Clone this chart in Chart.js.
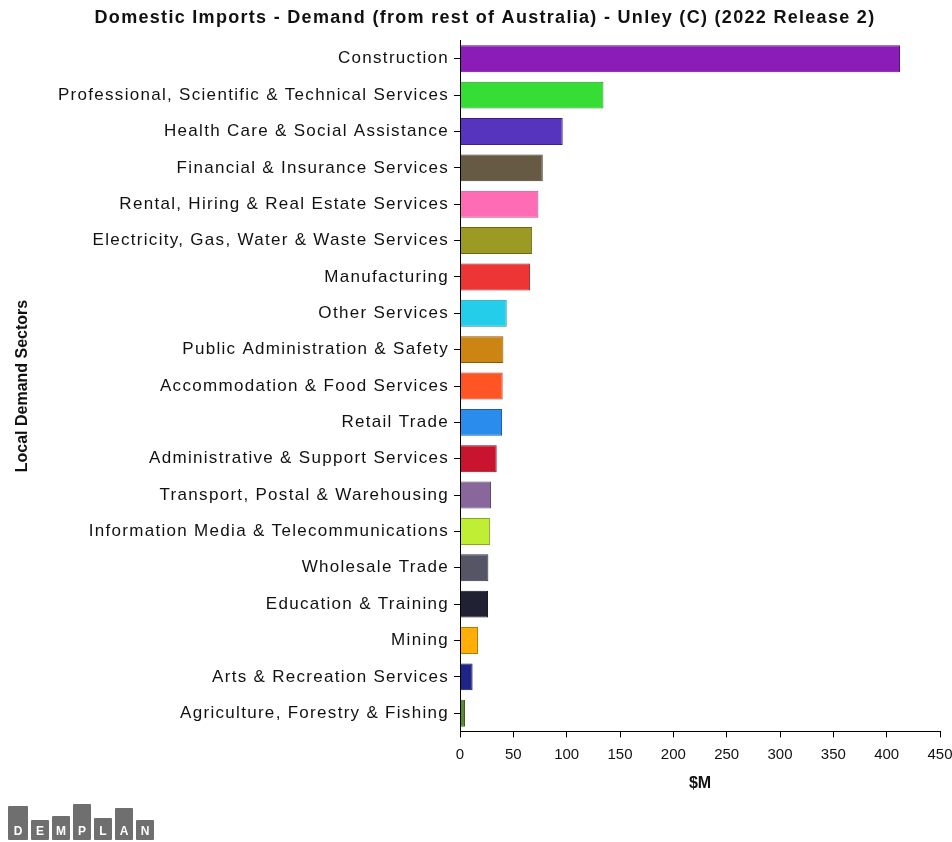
<!DOCTYPE html>
<html>
<head>
<meta charset="utf-8">
<title>Domestic Imports - Demand - Unley (C)</title>
<script src="https://cdn.jsdelivr.net/npm/chart.js"></script>
<style>
  body { margin: 0; background: #fff; }
  #wrap { position: relative; width: 952px; height: 842px; }
  #logo { position: absolute; left: 8px; top: 804px; height: 36px; display: flex; align-items: flex-end; gap: 3px; }
  #logo span {
    display: flex; align-items: flex-end; justify-content: center;
    width: 18px; background: #6f6f6f; color: #fff; border-radius: 1px;
    font: bold 12px "Liberation Sans", Arial, sans-serif; padding-bottom: 2px; box-sizing: border-box;
  }
</style>
</head>
<body>
<div id="wrap">
  <canvas id="chart" width="952" height="842"></canvas>
  <div id="logo">
    <span style="height:34px;width:20px">D</span>
    <span style="height:20px">E</span>
    <span style="height:24px">M</span>
    <span style="height:36px">P</span>
    <span style="height:22px">L</span>
    <span style="height:32px">A</span>
    <span style="height:20px">N</span>
  </div>
</div>
<script>
// Local demand sectors, largest first
const sectors = [
  'Construction',
  'Professional, Scientific & Technical Services',
  'Health Care & Social Assistance',
  'Financial & Insurance Services',
  'Rental, Hiring & Real Estate Services',
  'Electricity, Gas, Water & Waste Services',
  'Manufacturing',
  'Other Services',
  'Public Administration & Safety',
  'Accommodation & Food Services',
  'Retail Trade',
  'Administrative & Support Services',
  'Transport, Postal & Warehousing',
  'Information Media & Telecommunications',
  'Wholesale Trade',
  'Education & Training',
  'Mining',
  'Arts & Recreation Services',
  'Agriculture, Forestry & Fishing'
];

// Domestic imports ($M)
const importsM = [412.5, 134.5, 96.3, 77.6, 73.5, 67.6, 65.7, 43.8, 40.7, 40.0,
                  39.4, 34.4, 29.1, 28.2, 26.6, 26.3, 16.9, 11.8, 4.7];

const xTickValues = [0, 50, 100, 150, 200, 250, 300, 350, 400, 450];

const fills = ['#8c1cb8', '#35dd35', '#5634be', '#665a44', '#ff6cb6', '#9a9a24', '#ee3535',
               '#24cdea', '#cc8412', '#ff5424', '#2a8cec', '#c8142e', '#87679c', '#bfee35',
               '#555566', '#202234', '#ffae08', '#1e2488', '#5a8a34'];
const borders = ['#5e1080', '#229922', '#3a2288', '#443a2a', '#c04c86', '#6a6a14', '#a82222',
                 '#1690a8', '#8a580a', '#b83a16', '#1a60a8', '#8a0c1e', '#5a4468', '#86a822',
                 '#333340', '#101018', '#b87a04', '#10145c', '#3a5c20'];

const FONT = '"Liberation Sans", Arial, sans-serif';

// Wide tracking for the chart title and sector names (drawn in the z <= 0 layers),
// normal tracking for everything drawn after the bars (axis lines, titles, x ticks).
const spacing = {
  id: 'spacing',
  beforeDraw(chart) { chart.ctx.letterSpacing = '1.3px'; },
  afterDatasetsDraw(chart) { chart.ctx.letterSpacing = '0px'; },
  afterDraw(chart) { chart.ctx.letterSpacing = '0px'; }
};

new Chart(document.getElementById('chart'), {
  type: 'bar',
  data: {
    labels: sectors,
    datasets: [{
      data: importsM,
      backgroundColor: fills,
      borderColor: borders,
      borderWidth: 1,
      barPercentage: 0.74,
      categoryPercentage: 1
    }]
  },
  plugins: [spacing],
  options: {
    indexAxis: 'y',
    responsive: false,
    animation: false,
    devicePixelRatio: 1,
    // left padding nudges the centred title right; the y scale is narrowed to match
    layout: { padding: { left: 30, right: 12, top: 0, bottom: 45 } },
    plugins: {
      legend: { display: false },
      tooltip: { enabled: false },
      title: {
        display: true,
        text: 'Domestic Imports - Demand (from rest of Australia) - Unley (C) (2022 Release 2)',
        color: '#111',
        font: { family: FONT, size: 18, weight: 'bold' },
        padding: { top: 7, bottom: 12 }
      }
    },
    scales: {
      x: {
        min: 0,
        max: 450,
        afterBuildTicks: (scale) => { scale.ticks = xTickValues.map(v => ({ value: v })); },
        afterFit: (scale) => { scale.paddingLeft = 0; scale.paddingRight = 0; },
        grid: { drawOnChartArea: false, drawTicks: true, tickLength: 6, color: '#000', z: 1 },
        border: { color: '#000', width: 1, z: 1 },
        ticks: { color: '#111', padding: 8, font: { family: FONT, size: 15 }, maxRotation: 0, z: 1 },
        title: {
          display: true,
          text: '$M',
          color: '#111',
          font: { family: FONT, size: 16, weight: 'bold' },
          padding: { top: 2.4, bottom: 4 }
        }
      },
      y: {
        afterFit: (scale) => { scale.width = 430; },
        grid: { drawOnChartArea: false, drawTicks: true, tickLength: 6, color: '#000', offset: false, z: 1 },
        border: { color: '#000', width: 1, z: 1 },
        ticks: { color: '#111', padding: 5, font: { family: FONT, size: 17 }, autoSkip: false },
        title: {
          display: true,
          text: 'Local Demand Sectors',
          color: '#111',
          font: { family: FONT, size: 16, weight: 'bold' },
          padding: { top: -17, bottom: 4 }
        }
      }
    }
  }
});
</script>
</body>
</html>
